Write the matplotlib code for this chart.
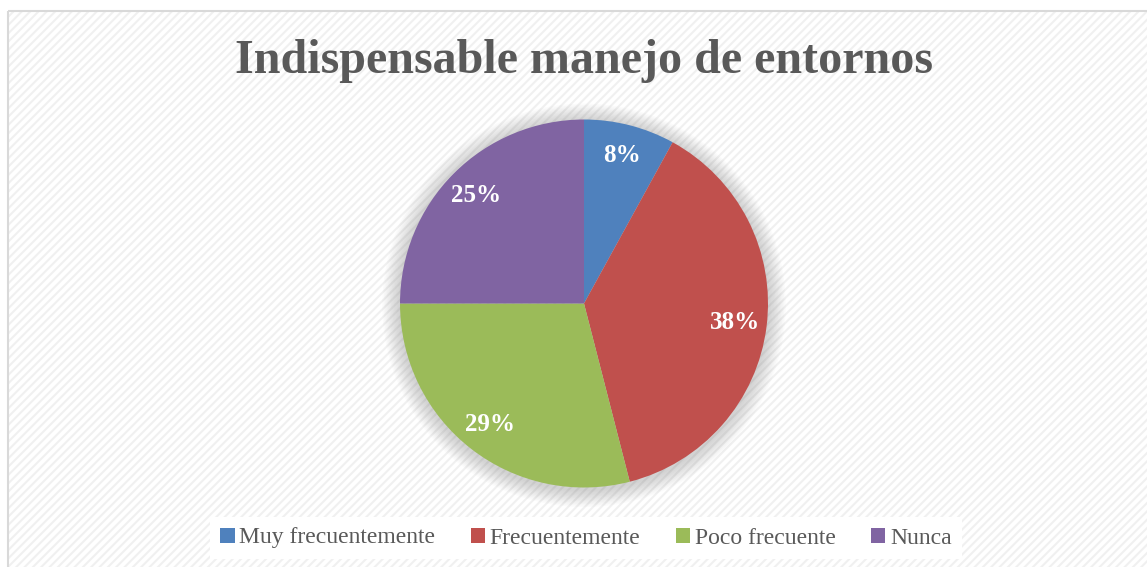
import matplotlib
matplotlib.use("Agg")
import matplotlib.pyplot as plt
from matplotlib.patches import Rectangle, Circle

categories = ["Muy frecuentemente", "Frecuentemente", "Poco frecuente", "Nunca"]
values = [8, 38, 29, 25]
colors = ["#4F81BD", "#C0504D", "#9BBB59", "#8064A2"]

plt.rcParams["font.family"] = ["Liberation Serif", "DejaVu Serif"]
plt.rcParams["hatch.linewidth"] = 1.5

W, H = 1147, 567
fig = plt.figure(figsize=(W / 100, H / 100), dpi=100)

# chart area background with diagonal stripes
bgax = fig.add_axes([0, 0, 1, 1], zorder=-5)
bgax.set_xlim(0, W)
bgax.set_ylim(H, 0)
bgax.axis("off")
bgax.add_patch(Rectangle((8, 11), W + 20, H + 20, facecolor="white", edgecolor="#f0f0f0",
                         hatch="////", linewidth=0))
bgax.add_patch(Rectangle((8, 11), W + 20, H + 20, facecolor="none", edgecolor="#d9d9d9",
                         linewidth=1.5))

# pie
cx, cy, r = 584, H - 303.5, 184
k = 1.25
ax = fig.add_axes([(cx - r * k) / W, (cy - r * k) / H, 2 * r * k / W, 2 * r * k / H])
ax.set_facecolor("none")

# soft shadow around the pie
for i in range(12):
    ax.add_patch(Circle((0, -0.01), 1.0 + 0.008 * (i + 1), facecolor="#808080",
                        edgecolor="none", alpha=0.03, zorder=0))

wedges, texts, autotexts = ax.pie(values, colors=colors, startangle=90, counterclock=False,
                                  autopct="%d%%", pctdistance=0.83,
                                  wedgeprops=dict(linewidth=0, zorder=2),
                                  textprops=dict(color="white", fontsize=18, fontweight="bold"))
for t in autotexts:
    t.set_zorder(3)
ax.set_xlim(-k, k)
ax.set_ylim(-k, k)
ax.set_aspect("equal")
ax.axis("off")

fig.text(584 / W, 1 - 61 / H, "Indispensable manejo de entornos", ha="center", va="center",
         fontsize=34.6, fontweight="bold", color="#595959")

leg = fig.legend(wedges, categories, loc="center", bbox_to_anchor=(586 / W, 1 - 538 / H),
                 ncol=4, frameon=True, fontsize=17, handlelength=0.6, handleheight=0.6,
                 handletextpad=0.2, columnspacing=1.5, borderpad=0.45, fancybox=False)
leg.get_frame().set_facecolor("white")
leg.get_frame().set_edgecolor("none")
leg.get_frame().set_alpha(1)
for t in leg.get_texts():
    t.set_color("#595959")

fig.savefig("out.png", dpi=100)
